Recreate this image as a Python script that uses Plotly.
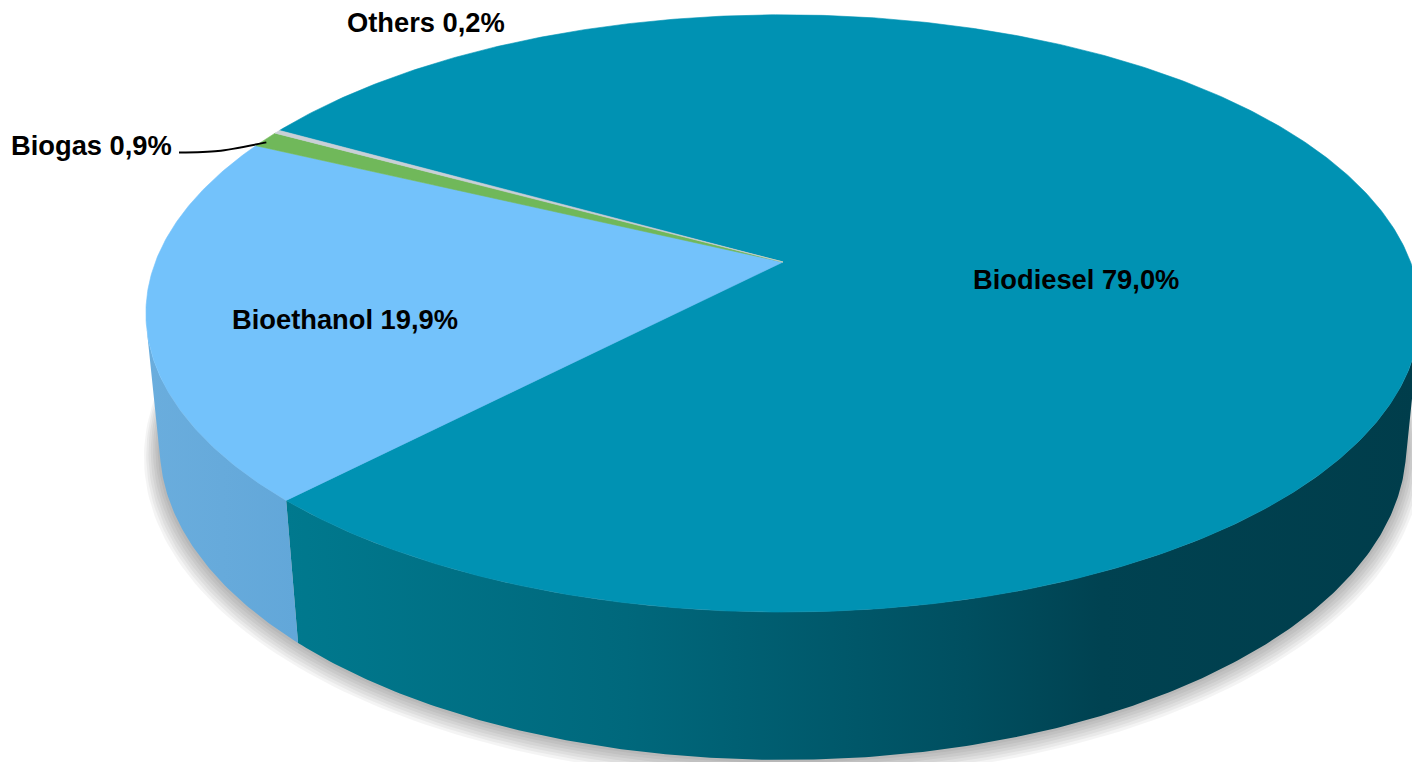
import numpy as np
import plotly.graph_objects as go

# Shares of biofuels (%)
fuels = ["Biodiesel", "Bioethanol", "Biogas", "Others"]
shares = [79.0, 19.9, 0.9, 0.2]

# Styling
top_colors = ["#0092B3", "#73C2FB", "#70B85A", "#C9D0D6"]
side_scales = [
    [[0.0, "#00798E"], [0.3, "#00687C"], [0.6, "#004F60"], [0.72, "#004251"], [1.0, "#003D4B"]],
    [[0.0, "#6AADDD"], [1.0, "#62A7D9"]],
    [[0.0, "#5E9E4A"], [1.0, "#5E9E4A"]],
    [[0.0, "#A9B0B6"], [1.0, "#A9B0B6"]],
]
W, H = 1412, 762

# Perspective camera for the tilted disc
CX, CY = 783.0, 262.0          # projected disc centre (pixels)
PHI = np.radians(27.5)         # viewing elevation
SPHI, CPHI = np.sin(PHI), np.cos(PHI)
DIST = 5.15                    # camera distance in disc radii
FOC = 3232.0                   # focal length (pixels)
DEPTH = 0.239                  # disc thickness in radii
START = 150.5                  # angle of first slice edge, degrees, clockwise


def project(theta_deg, z):
    t = np.radians(np.asarray(theta_deg, dtype=float))
    X, Y = np.cos(t), np.sin(t)
    d = DIST + Y * CPHI - z * SPHI
    return CX + FOC * X / d, CY - FOC * (Y * SPHI + z * CPHI) / d


# visible part of the rim (silhouette angles)
s_lim = np.degrees(np.arcsin(1.0 / (DIST * CPHI)))
VIS_LO, VIS_HI = 180.0 + s_lim, 360.0 - s_lim

total = sum(shares)
edges = [START]
for v in shares:
    edges.append(edges[-1] - v / total * 360.0)

fig = go.Figure()

# soft shadow beneath the disc
ring = np.linspace(0, 360, 361)
for i in range(1, 8):
    k = 1 + 0.0035 * i
    t = np.radians(ring)
    X, Y = k * np.cos(t), k * np.sin(t)
    z = -DEPTH
    d = DIST + Y * CPHI - z * SPHI
    sx = CX + FOC * X / d
    sy = CY - FOC * (Y * SPHI + z * CPHI) / d + 1.3 * i
    fig.add_trace(go.Scatter(x=sx, y=sy, mode="lines", fill="toself",
                             fillcolor="rgba(0,0,0,0.045)", line=dict(width=0),
                             hoverinfo="skip", showlegend=False))

# rim walls
for i, name in enumerate(fuels):
    hi, lo = edges[i], edges[i + 1]
    for shift in (-360.0, 0.0, 360.0):
        a, b = max(lo + shift, VIS_LO), min(hi + shift, VIS_HI)
        if b - a <= 0:
            continue
        n = max(int((b - a) * 2), 4)
        th = np.linspace(a, b, n)
        tx, ty = project(th, 0.0)
        bx, by = project(th[::-1], -DEPTH)
        fig.add_trace(go.Scatter(
            x=np.concatenate([tx, bx, tx[:1]]), y=np.concatenate([ty, by, ty[:1]]),
            mode="lines", fill="toself", line=dict(width=0),
            fillgradient=dict(type="horizontal", colorscale=side_scales[i]),
            hoverinfo="skip", showlegend=False))

# top faces
for i, name in enumerate(fuels):
    hi, lo = edges[i], edges[i + 1]
    n = max(int((hi - lo) * 2), 4)
    th = np.linspace(hi, lo, n)
    ax, ay = project(th, 0.0)
    fig.add_trace(go.Scatter(
        x=np.concatenate([[CX], ax, [CX]]), y=np.concatenate([[CY], ay, [CY]]),
        mode="lines", fill="toself", fillcolor=top_colors[i],
        line=dict(width=0.6, color=top_colors[i]),
        name=name, hoverinfo="name", showlegend=False))


def label(i):
    return f"{fuels[i]} {shares[i]:.1f}%".replace(".", ",")


font = dict(family="Liberation Sans, Arial, sans-serif", size=27.3, color="black", weight="bold")
label_pos = {0: (1076, 279), 1: (345, 319), 2: (91, 145), 3: (426, 22)}
for i, (lx, ly) in label_pos.items():
    fig.add_annotation(x=lx, y=ly, text=label(i), showarrow=False,
                       xanchor="center", yanchor="middle", font=font)

# leader line for the Biogas slice
mid = (edges[2] + edges[3]) / 2
ex, ey = project([mid], 0.0)
fig.add_trace(go.Scatter(x=[179, 218, float(ex[0]) + 1], y=[152.5, 151, float(ey[0]) + 3],
                         mode="lines", line=dict(color="black", width=2, shape="spline", smoothing=0.8),
                         hoverinfo="skip", showlegend=False))

fig.update_layout(
    width=W, height=H, margin=dict(l=0, r=0, t=0, b=0),
    paper_bgcolor="white", plot_bgcolor="white",
    xaxis=dict(range=[0, W], visible=False, fixedrange=True),
    yaxis=dict(range=[H, 0], visible=False, fixedrange=True),
)
fig.write_html("out.html")
